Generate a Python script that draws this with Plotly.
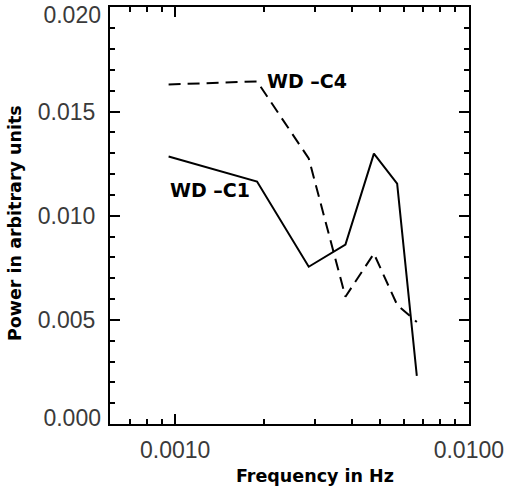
import plotly.graph_objects as go
import numpy as np

freq = [0.00095, 0.0019, 0.00285, 0.0038, 0.00475, 0.0057, 0.00665]
wd_c1 = [0.01284, 0.01164, 0.00755, 0.00861, 0.01298, 0.01154, 0.00231]
wd_c4 = [0.0163, 0.01645, 0.01275, 0.00611, 0.00818, 0.00572, 0.0049]

x_ticks = [0.001, 0.01]
x_ticktext = ["0.0010", "0.0100"]
x_minor = [0.0006, 0.0007, 0.0008, 0.0009, 0.002, 0.003, 0.004, 0.005, 0.006, 0.007, 0.008, 0.009]
y_ticks = [0.0, 0.005, 0.010, 0.015, 0.020]
y_ticktext = ["", "0.005", "0.010", "0.015", ""]
y_top_tick = [0.020]
y_top_text = ["0.020"]
y_bot_tick = [0.0]
y_bot_text = ["0.000"]

fig = go.Figure()
fig.add_trace(go.Scatter(x=freq, y=wd_c1, mode="lines",
                         line=dict(color="black", width=2)))
fig.add_trace(go.Scatter(x=freq, y=wd_c4, mode="lines",
                         line=dict(color="black", width=2, dash="12px,7px")))
fig.add_trace(go.Scatter(x=[], y=[], yaxis="y2", hoverinfo="skip"))
fig.add_trace(go.Scatter(x=[], y=[], yaxis="y3", hoverinfo="skip"))

tickfont = dict(family="Liberation Sans, Arial, sans-serif", size=23, color="#3a3a3a")
boldfont = dict(family="DejaVu Sans, sans-serif", size=17.5, color="black")
labfont = dict(family="DejaVu Sans, sans-serif", size=19, color="black")
yrange = [0, 0.02002]

fig.update_xaxes(type="log", range=[np.log10(0.0006), -1.9995],
                 tickmode="array", tickvals=x_ticks, ticktext=x_ticktext,
                 ticks="inside", ticklen=10, tickwidth=2, tickcolor="black",
                 showline=True, linecolor="black", linewidth=2, mirror="ticks",
                 showgrid=False, zeroline=False, tickfont=tickfont, automargin=False,
                 ticklabelstandoff=4, ticklabeloverflow="allow",
                 minor=dict(tickmode="array", tickvals=x_minor, ticks="inside",
                            ticklen=5, tickwidth=2, tickcolor="black", showgrid=False))

fig.update_layout(
    yaxis=dict(range=yrange, automargin=False,
               tickmode="array", tickvals=y_ticks, ticktext=y_ticktext,
               ticks="inside", ticklen=10, tickwidth=2, tickcolor="black",
               showline=True, linecolor="black", linewidth=2, mirror="ticks",
               showgrid=False, zeroline=False, tickfont=tickfont,
               ticklabelstandoff=8, ticklabeloverflow="allow",
               minor=dict(dtick=0.001, ticks="inside", ticklen=5, tickwidth=2,
                          tickcolor="black", showgrid=False)),
    yaxis2=dict(range=yrange, overlaying="y", anchor="x", side="left", automargin=False,
                tickmode="array", tickvals=y_top_tick, ticktext=y_top_text,
                ticks="", showline=False, showgrid=False, zeroline=False,
                tickfont=tickfont, ticklabelstandoff=8, ticklabelshift=8,
                ticklabeloverflow="allow"),
    yaxis3=dict(range=yrange, overlaying="y", anchor="x", side="left", automargin=False,
                tickmode="array", tickvals=y_bot_tick, ticktext=y_bot_text,
                ticks="", showline=False, showgrid=False, zeroline=False,
                tickfont=tickfont, ticklabelstandoff=8, ticklabelshift=-6,
                ticklabeloverflow="allow"),
)

fig.add_annotation(text="<b>WD –C1</b>", xref="paper", yref="paper",
                   x=0.1616, y=0.56, xanchor="left", yanchor="middle",
                   showarrow=False, font=labfont)
fig.add_annotation(text="<b>WD –C4</b>", xref="paper", yref="paper",
                   x=0.4318, y=0.8237, xanchor="left", yanchor="middle",
                   showarrow=False, font=labfont)
fig.add_annotation(text="<b>Frequency in Hz</b>", xref="paper", yref="paper",
                   x=0.571, y=-0.1247, xanchor="center", yanchor="middle",
                   showarrow=False, font=boldfont)
fig.add_annotation(text="<b>Power in arbitrary units</b>", xref="paper", yref="paper",
                   x=-0.2646, y=0.482, xanchor="center", yanchor="middle",
                   textangle=-90, showarrow=False, font=boldfont)

fig.update_layout(width=508, height=491, showlegend=False,
                  plot_bgcolor="white", paper_bgcolor="white",
                  margin=dict(l=110, r=39, t=7, b=67, autoexpand=False))

fig.write_html("out.html", config={"displayModeBar": False},
               post_script="document.body.style.margin='0px';document.body.style.overflow='hidden';")
